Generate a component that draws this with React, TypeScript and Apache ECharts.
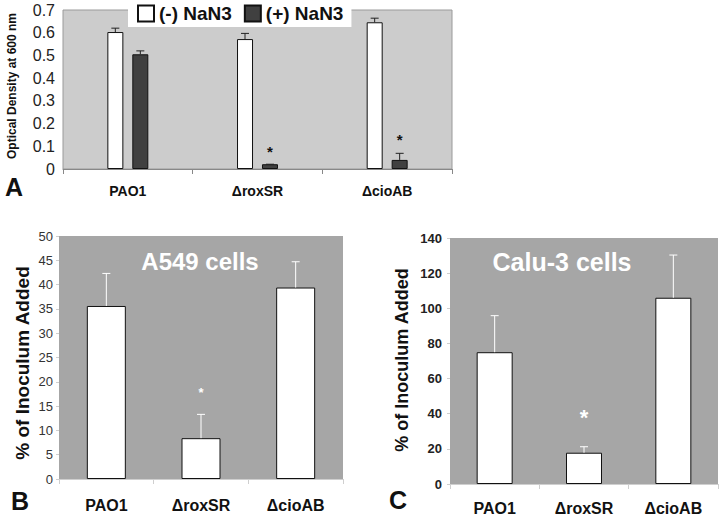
import React, { useEffect, useRef } from "react";
import * as echarts from "echarts";

const categories = ["PAO1", "\u0394roxSR", "\u0394cioAB"];

// Panel A: optical density at 600 nm
const aMinus = [0.603, 0.572, 0.646];
const aMinusErr = [0.62, 0.597, 0.664];
const aPlus = [0.505, 0.021, 0.04];
const aPlusErr = [0.52, 0.021, 0.069];
const aStar = [null, 0.076, 0.128];

// Panel B: A549 cells
const bValues = [35.6, 8.4, 39.4];
const bErr = [42.3, 13.3, 44.7];
const bStar = [null, 17.9, null];

// Panel C: Calu-3 cells
const cValues = [75.0, 17.8, 106.0];
const cErr = [95.8, 21.2, 130.3];
const cStar = [null, 38.0, null];

const FONT = "Liberation Sans, Arial, Helvetica, sans-serif";

function errSeries(name, gi, vals, errs, off, color, cap) {
  return {
    type: "custom",
    name,
    xAxisIndex: gi,
    yAxisIndex: gi,
    z: 5,
    silent: true,
    data: vals.map((v, i) => [i, v, errs[i]]),
    renderItem: (params, api) => {
      const i = api.value(0);
      const p0 = api.coord([i, api.value(1)]);
      const p1 = api.coord([i, api.value(2)]);
      const x = p0[0] + off;
      return {
        type: "group",
        children: [
          { type: "line", shape: { x1: x, y1: p0[1], x2: x, y2: p1[1] }, style: { stroke: color, lineWidth: 1 } },
          { type: "line", shape: { x1: x - cap, y1: p1[1], x2: x + cap, y2: p1[1] }, style: { stroke: color, lineWidth: 1 } },
        ],
      };
    },
  };
}

function starSeries(name, gi, stars, off, color, size) {
  const data = [];
  stars.forEach((s, i) => {
    if (s !== null) data.push([i, s]);
  });
  return {
    type: "custom",
    name,
    xAxisIndex: gi,
    yAxisIndex: gi,
    z: 6,
    silent: true,
    data,
    renderItem: (params, api) => {
      const p = api.coord([api.value(0), api.value(1)]);
      return {
        type: "text",
        x: p[0] + off,
        y: p[1],
        style: {
          text: "*",
          fill: color,
          fontSize: size,
          fontWeight: "bold",
          fontFamily: FONT,
          align: "center",
          verticalAlign: "middle",
        },
      };
    },
  };
}

export default function App() {
  const ref = useRef(null);
  useEffect(() => {
    const chart = echarts.init(ref.current, null, { renderer: "svg" });
    const xAxisBase = (gi, lineColor, size, margin) => ({
      type: "category",
      gridIndex: gi,
      data: categories,
      axisLine: { lineStyle: { color: lineColor, width: 1 } },
      axisTick: { show: true, length: 5, lineStyle: { color: lineColor } },
      axisLabel: { fontFamily: FONT, fontWeight: "bold", fontSize: size, color: "#111", margin },
      splitLine: { show: false },
    });
    const option = {
      animation: false,
      backgroundColor: "#ffffff",
      textStyle: { fontFamily: FONT },
      legend: {
        left: 128,
        top: 0,
        padding: [4, 8, 4, 9],
        itemGap: 12,
        itemWidth: 16,
        itemHeight: 16,
        backgroundColor: "#ffffff",
        icon: "rect",
        data: ["(-) NaN3", "(+) NaN3"],
        textStyle: { fontFamily: FONT, fontWeight: "bold", fontSize: 19, color: "#111" },
      },
      grid: [
        { left: 63, right: 272, top: 10, height: 159, show: true, backgroundColor: "#cccccc", borderColor: "#9a9a9a", borderWidth: 1 },
        { left: 59, right: 381, top: 236, height: 243, show: true, backgroundColor: "#a6a6a6", borderWidth: 0 },
        { left: 450, right: 6, top: 238, height: 246, show: true, backgroundColor: "#a6a6a6", borderWidth: 0 },
      ],
      xAxis: [
        xAxisBase(0, "#888888", 14, 15),
        xAxisBase(1, "#cfcfcf", 16, 18),
        xAxisBase(2, "#cfcfcf", 16, 16),
      ],
      yAxis: [
        {
          type: "value",
          gridIndex: 0,
          min: 0,
          max: 0.7,
          interval: 0.1,
          axisLine: { show: false },
          axisTick: { show: false },
          splitLine: { show: false },
          axisLabel: { fontFamily: FONT, fontSize: 16, color: "#222", margin: 8 },
        },
        {
          type: "value",
          gridIndex: 1,
          min: 0,
          max: 50,
          interval: 5,
          axisLine: { show: false },
          axisTick: { show: true, length: 3, lineStyle: { color: "#cfcfcf" } },
          splitLine: { show: false },
          axisLabel: { fontFamily: FONT, fontSize: 13, color: "#333", margin: 6 },
        },
        {
          type: "value",
          gridIndex: 2,
          min: 0,
          max: 140,
          interval: 20,
          axisLine: { show: false },
          axisTick: { show: true, length: 3, lineStyle: { color: "#cfcfcf" } },
          splitLine: { show: false },
          axisLabel: { fontFamily: FONT, fontSize: 13, fontWeight: "bold", color: "#222", margin: 8 },
        },
      ],
      series: [
        {
          type: "bar",
          name: "(-) NaN3",
          xAxisIndex: 0,
          yAxisIndex: 0,
          data: aMinus,
          barWidth: 16,
          barGap: "56%",
          itemStyle: { color: "#ffffff", borderColor: "#111", borderWidth: 1 },
        },
        {
          type: "bar",
          name: "(+) NaN3",
          xAxisIndex: 0,
          yAxisIndex: 0,
          data: aPlus,
          barWidth: 16,
          barGap: "56%",
          itemStyle: { color: "#404040", borderColor: "#111", borderWidth: 1 },
        },
        errSeries("errAminus", 0, aMinus, aMinusErr, -12.5, "#222", 4),
        errSeries("errAplus", 0, aPlus, aPlusErr, 12.5, "#222", 4),
        starSeries("starA", 0, aStar, 12.5, "#111", 15),
        {
          type: "bar",
          name: "A549",
          xAxisIndex: 1,
          yAxisIndex: 1,
          data: bValues,
          barWidth: 39,
          itemStyle: { color: "#ffffff", borderColor: "#111", borderWidth: 1 },
        },
        errSeries("errB", 1, bValues, bErr, 0, "#ffffff", 4),
        starSeries("starB", 1, bStar, 0, "#ffffff", 13),
        {
          type: "bar",
          name: "Calu-3",
          xAxisIndex: 2,
          yAxisIndex: 2,
          data: cValues,
          barWidth: 36,
          itemStyle: { color: "#ffffff", borderColor: "#111", borderWidth: 1 },
        },
        errSeries("errC", 2, cValues, cErr, 0, "#ffffff", 4),
        starSeries("starC", 2, cStar, 0, "#ffffff", 22),
      ],
      graphic: [
        { type: "text", x: 12, y: 86, rotation: Math.PI / 2, style: { text: "Optical Density at 600 nm", font: `bold 12px ${FONT}`, fill: "#111", align: "center", verticalAlign: "middle" } },
        { type: "text", x: 22, y: 363, rotation: Math.PI / 2, style: { text: "% of Inoculum Added", font: `bold 19px ${FONT}`, fill: "#111", align: "center", verticalAlign: "middle" } },
        { type: "text", x: 402, y: 360, rotation: Math.PI / 2, style: { text: "% of Inoculum Added", font: `bold 18px ${FONT}`, fill: "#111", align: "center", verticalAlign: "middle" } },
        { type: "text", x: 200, y: 261, style: { text: "A549 cells", font: `bold 24px ${FONT}`, fill: "#ffffff", align: "center", verticalAlign: "middle" } },
        { type: "text", x: 562, y: 262, style: { text: "Calu-3 cells", font: `bold 25px ${FONT}`, fill: "#ffffff", align: "center", verticalAlign: "middle" } },
        { type: "text", x: 14, y: 187, style: { text: "A", font: `bold 25px ${FONT}`, fill: "#111", align: "center", verticalAlign: "middle" } },
        { type: "text", x: 20, y: 501, style: { text: "B", font: `bold 25px ${FONT}`, fill: "#111", align: "center", verticalAlign: "middle" } },
        { type: "text", x: 398, y: 500, style: { text: "C", font: `bold 25px ${FONT}`, fill: "#111", align: "center", verticalAlign: "middle" } },
      ],
    };
    chart.setOption(option);
    return () => chart.dispose();
  }, []);
  return <div ref={ref} style={{ position: "fixed", left: 0, top: 0, width: 724, height: 519 }} />;
}
